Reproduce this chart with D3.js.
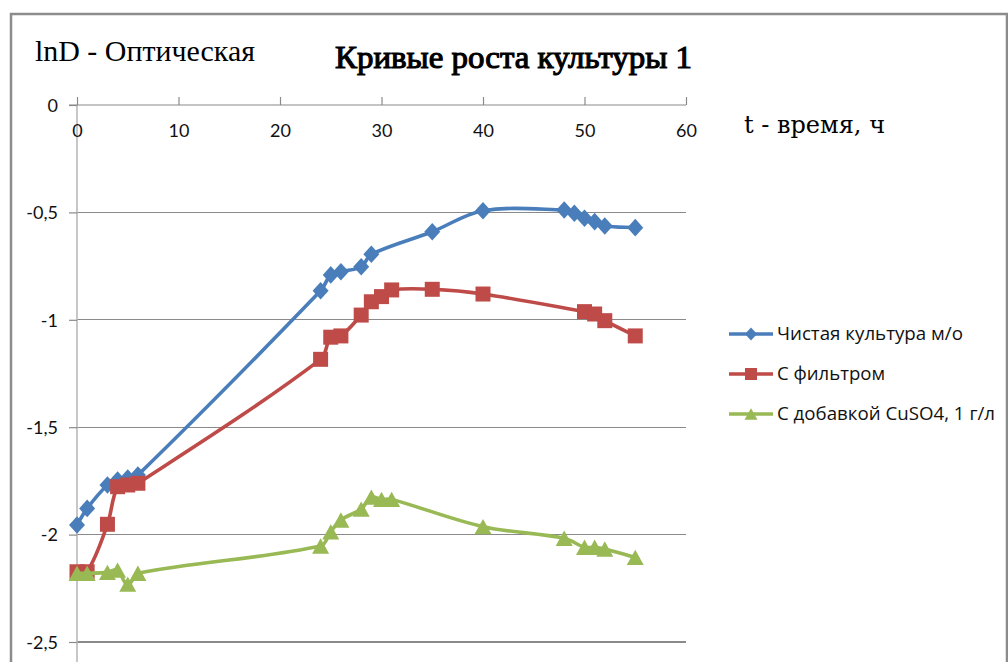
<!DOCTYPE html>
<html><head><meta charset="utf-8">
<script src="https://cdn.jsdelivr.net/npm/d3@7"></script>
<style>
html,body{margin:0;padding:0;background:#fff;}
svg{display:block;}
</style></head>
<body>
<svg id="chart" width="1008" height="662"></svg>
<script>
// ---- data ----
const seriesNames = ["Чистая культура м/о", "С фильтром", "С добавкой CuSO4, 1 г/л"];
const timePure = [0,1,3,4,5,6,24,25,26,28,29,35,40,48,49,50,51,52,55];
const valuesPure = [-1.955,-1.878,-1.769,-1.746,-1.737,-1.723,-0.865,-0.791,-0.776,-0.753,-0.695,-0.590,-0.492,-0.489,-0.504,-0.527,-0.543,-0.563,-0.571];
const timeFilter = [0,1,3,4,5,6,24,25,26,28,29,30,31,35,40,50,51,52,55];
const valuesFilter = [-2.173,-2.173,-1.952,-1.777,-1.769,-1.761,-1.184,-1.081,-1.075,-0.978,-0.916,-0.892,-0.861,-0.858,-0.880,-0.962,-0.973,-1.004,-1.075];
const timeCu = [0,1,3,4,5,6,24,25,26,28,29,30,31,40,48,50,51,52,55];
const valuesCu = [-2.180,-2.180,-2.176,-2.165,-2.231,-2.180,-2.053,-1.987,-1.932,-1.881,-1.826,-1.836,-1.836,-1.963,-2.017,-2.059,-2.059,-2.067,-2.106];
const xTicks = [0,10,20,30,40,50,60];
const yTicks = [0,-0.5,-1,-1.5,-2,-2.5];
const yTickLabels = ["0","-0,5","-1","-1,5","-2","-2,5"];
const chartTitle = "Кривые роста культуры 1";
const yTitle = "lnD - Оптическая";
const xTitle = "t - время, ч";

const colors = ["#4a7ebb","#be4b48","#98b954"];

// custom marker shapes (size = width)
const diamondSym = {draw(ctx, s){ const w=s/2, h=s*0.55; ctx.moveTo(0,-h); ctx.lineTo(w,0); ctx.lineTo(0,h); ctx.lineTo(-w,0); ctx.closePath(); }};
const squareSym = {draw(ctx, s){ const w=s/2; ctx.rect(-w,-w,s,s); }};
const triangleSym = {draw(ctx, s){ const w=s/2, h=s*0.45; ctx.moveTo(0,-h); ctx.lineTo(w,h); ctx.lineTo(-w,h); ctx.closePath(); }};
const symbols = [diamondSym, squareSym, triangleSym];
const markerSize = [16, 15, 17];
const legendMarkerSize = [12, 12, 13];

// Excel-like smoothing curve: tangent from neighbours, handle length = 1/3 of segment
function ExcelSmooth(context){ this._context = context; }
ExcelSmooth.prototype = {
  areaStart(){}, areaEnd(){},
  lineStart(){ this._pts = []; },
  point(px, py){ this._pts.push([+px, +py]); },
  lineEnd(){
    const p = this._pts, n = p.length, c = this._context;
    if (!n) return;
    c.moveTo(p[0][0], p[0][1]);
    if (n === 1) return;
    const tan = p.map((pt, i) => {
      const a = p[Math.max(0, i-1)], b = p[Math.min(n-1, i+1)];
      const dx = b[0]-a[0], dy = b[1]-a[1], L = Math.hypot(dx, dy) || 1;
      return [dx/L, dy/L];
    });
    for (let i = 0; i < n-1; i++) {
      const a = p[i], b = p[i+1], d = Math.hypot(b[0]-a[0], b[1]-a[1]) / 3;
      c.bezierCurveTo(a[0]+tan[i][0]*d, a[1]+tan[i][1]*d, b[0]-tan[i+1][0]*d, b[1]-tan[i+1][1]*d, b[0], b[1]);
    }
  }
};
const excelCurve = ctx => new ExcelSmooth(ctx);

const svg = d3.select("#chart");
const x = d3.scaleLinear().domain([0,60]).range([77,686]);
const y = d3.scaleLinear().domain([-2.5,0]).range([642,105]);

// outer frame
svg.append("path").attr("d","M11,700 L11,14 L1007,14 L1007,700")
  .attr("fill","none").attr("stroke","#8c8c8c").attr("stroke-width",2.5);

// gridlines
svg.append("g").selectAll("line").data(yTicks.filter(d=>d!==0)).join("line")
  .attr("x1",x(0)).attr("x2",x(60)).attr("y1",d=>y(d)).attr("y2",d=>y(d))
  .attr("stroke","#8a8a8a").attr("stroke-width",1.2).attr("shape-rendering","crispEdges");

// y axis
const yAxis = svg.append("g").attr("transform",`translate(${x(0)},0)`)
  .call(d3.axisLeft(y).tickValues(yTicks).tickSize(8).tickSizeOuter(0)
        .tickFormat((d,i)=>yTickLabels[i]));
yAxis.select(".domain").attr("stroke","#b5b5b5").attr("stroke-width",1.5)
  .attr("d",`M0,${y(0)}V700`);
yAxis.selectAll(".tick line").attr("stroke","#8a8a8a").attr("stroke-width",1.2);
yAxis.selectAll(".tick text").attr("x",-19).attr("dy","0.35em")
  .attr("font-family","Lato, 'Open Sans', sans-serif").attr("font-size",18).attr("fill","#111");

// x axis at top (y = 0)
const xAxis = svg.append("g").attr("transform",`translate(0,${y(0)})`)
  .call(d3.axisTop(x).tickValues(xTicks).tickSize(8).tickSizeOuter(0));
xAxis.select(".domain").attr("stroke","#8a8a8a").attr("stroke-width",1.2)
  .attr("d",`M${x(0)-8},0H${x(60)}`);
xAxis.selectAll(".tick line").attr("stroke","#8a8a8a").attr("stroke-width",1.2);
xAxis.selectAll(".tick text").attr("y",26).attr("dy","0.35em")
  .attr("font-family","Lato, 'Open Sans', sans-serif").attr("font-size",18).attr("fill","#111");

// titles
const timesLike = "'Liberation Serif', 'Times New Roman', serif";
svg.append("text").attr("x",335).attr("y",68).text(chartTitle)
  .style("font-family",timesLike).attr("font-weight","normal")
  .attr("stroke","#000").attr("stroke-width",1.1)
  .attr("font-size",32).attr("textLength",357).attr("lengthAdjust","spacingAndGlyphs").attr("fill","#000");
svg.append("text").attr("x",35).attr("y",61).text(yTitle)
  .style("font-family",timesLike)
  .attr("font-size",30).attr("textLength",220).attr("lengthAdjust","spacingAndGlyphs").attr("fill","#000");
svg.append("text").attr("x",744).attr("y",133).text(xTitle)
  .style("font-family","'DejaVu Serif', serif")
  .attr("font-size",24).attr("textLength",141).attr("lengthAdjust","spacingAndGlyphs").attr("fill","#000");

// series
const series = [
  {t: timePure, v: valuesPure},
  {t: timeFilter, v: valuesFilter},
  {t: timeCu, v: valuesCu}
];
const line = d3.line().x(d=>x(d[0])).y(d=>y(d[1])).curve(excelCurve);
series.forEach((s,i)=>{
  const pts = s.t.map((t,j)=>[t, s.v[j]]);
  svg.append("path").datum(pts).attr("d",line).attr("fill","none")
    .attr("stroke",colors[i]).attr("stroke-width",3.6).attr("stroke-linejoin","round");
  svg.append("g").selectAll("path").data(pts).join("path")
    .attr("transform",d=>`translate(${x(d[0])},${y(d[1])})`)
    .attr("d",d3.symbol().type(symbols[i]).size(markerSize[i]))
    .attr("fill",colors[i]);
});

// legend
const legendY = [334, 374, 414];
const legendWidths = [186, 108, 218];
seriesNames.forEach((name,i)=>{
  const g = svg.append("g").attr("transform",`translate(0,${legendY[i]})`);
  g.append("line").attr("x1",729).attr("x2",773).attr("y1",0).attr("y2",0)
    .attr("stroke",colors[i]).attr("stroke-width",3.6);
  g.append("path").attr("transform",`translate(751,0)`)
    .attr("d",d3.symbol().type(symbols[i]).size(legendMarkerSize[i])).attr("fill",colors[i]);
  g.append("text").attr("x",777).attr("y",0).attr("dy","0.35em").text(name)
    .attr("font-family","'Open Sans', 'Noto Sans', sans-serif").attr("font-size",18)
    .attr("textLength",legendWidths[i]).attr("lengthAdjust","spacingAndGlyphs").attr("fill","#111");
});
</script>
</body></html>
